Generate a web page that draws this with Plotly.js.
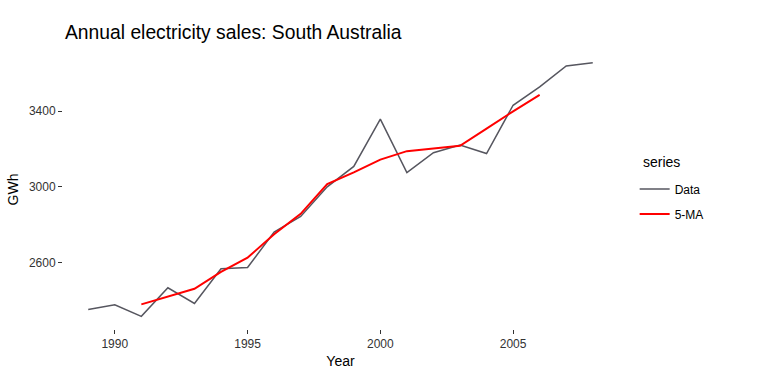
<!DOCTYPE html>
<html>
<head>
<meta charset="utf-8">
<script src="https://cdn.plot.ly/plotly-3.0.1.min.js"></script>
<style>html,body{margin:0;padding:0;background:#fff;}#chart{width:769px;height:382px;}</style>
</head>
<body>
<div id="chart"></div>
<script>
const years = [1989,1990,1991,1992,1993,1994,1995,1996,1997,1998,1999,2000,2001,2002,2003,2004,2005,2006,2007,2008];
const sales = [2354.34,2379.71,2318.52,2468.99,2386.09,2569.47,2575.72,2762.72,2844.50,3000.70,3108.10,3357.50,3075.70,3180.60,3221.60,3176.20,3430.60,3527.48,3637.89,3655.00];
const maYears = [1991,1992,1993,1994,1995,1996,1997,1998,1999,2000,2001,2002,2003,2004,2005,2006];
const ma5 = [2381.53,2424.56,2463.76,2552.60,2627.70,2750.62,2858.35,3014.70,3077.30,3144.52,3188.70,3202.32,3216.94,3307.30,3398.75,3485.43];
const xTicks = [1990,1995,2000,2005];
const yTicks = [2600,3000,3400];

const font = "Liberation Sans, Arial, sans-serif";
const traces = [
  {x: years, y: sales, type: 'scatter', mode: 'lines', name: 'Data', legendgroup: 'a',
   line: {color: '#56565f', width: 1.5}},
  {x: maYears, y: ma5, type: 'scatter', mode: 'lines', name: '5-MA', legendgroup: 'b',
   line: {color: '#ff0000', width: 2}}
];
const layout = {
  width: 769, height: 382,
  margin: {l: 63, r: 151, t: 50, b: 53},
  paper_bgcolor: '#fff', plot_bgcolor: '#fff',
  font: {family: font, color: '#000'},
  title: {text: 'Annual electricity sales: South Australia', x: 65/769, xanchor: 'left', y: 1 - 32/382, yanchor: 'middle',
          font: {size: 19.3, color: '#000'}},
  xaxis: {
    title: {text: 'Year', font: {size: 14, color: '#000'}, standoff: 5},
    range: [1988.05, 2008.95], tickvals: xTicks, ticktext: xTicks.map(String),
    showgrid: false, zeroline: false, showline: false,
    ticks: 'outside', ticklen: 4, tickwidth: 1, tickcolor: '#333',
    tickfont: {size: 12, color: '#333'}
  },
  yaxis: {
    title: {text: 'GWh', font: {size: 14, color: '#000'}, standoff: 6},
    range: [2251.7, 3721.8], tickvals: yTicks, ticktext: yTicks.map(String),
    showgrid: false, zeroline: false, showline: false,
    ticks: 'outside', ticklen: 4, tickwidth: 1, tickcolor: '#333',
    tickfont: {size: 12, color: '#333'}
  },
  legend: {
    x: 1.03, xanchor: 'left', y: 1 - (201.5 - 50) / 279, yanchor: 'middle',
    traceorder: 'grouped', tracegroupgap: 6,
    font: {size: 12, color: '#000'}, itemwidth: 30,
    bgcolor: 'rgba(0,0,0,0)'
  },
  annotations: [{
    text: 'series', xref: 'paper', yref: 'paper', x: (641 - 63) / 555, y: 1 - (162 - 50) / 279,
    xanchor: 'left', yanchor: 'middle', showarrow: false, font: {size: 14, color: '#000'}
  }],
  showlegend: true
};
Plotly.newPlot('chart', traces, layout, {displayModeBar: false, staticPlot: true});
</script>
</body>
</html>
